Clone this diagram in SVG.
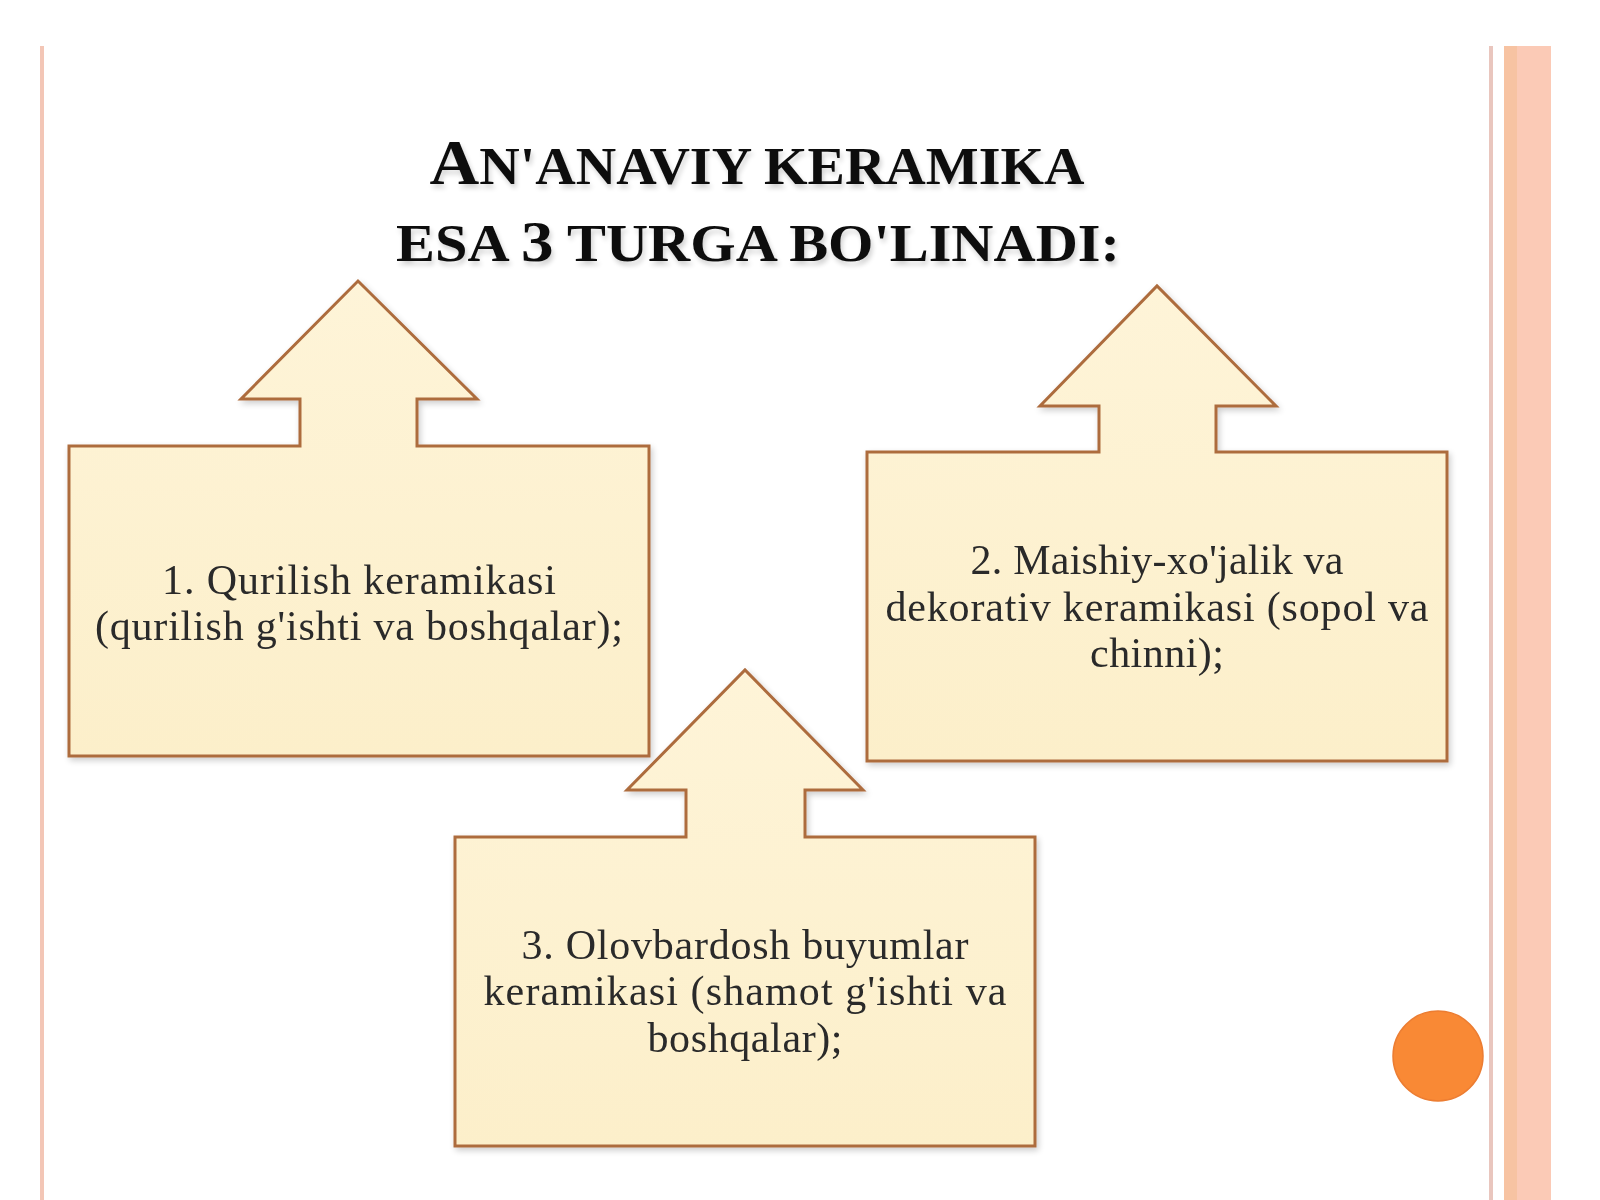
<svg xmlns="http://www.w3.org/2000/svg" width="1600" height="1200" viewBox="0 0 1600 1200">
  <defs>
    <linearGradient id="boxFill" x1="0" y1="0" x2="0" y2="1">
      <stop offset="0" stop-color="#fef4d8"/>
      <stop offset="1" stop-color="#fcefca"/>
    </linearGradient>
    <filter id="shadow" x="-5%" y="-5%" width="110%" height="110%">
      <feGaussianBlur in="SourceAlpha" stdDeviation="3"/>
      <feOffset dx="2" dy="3" result="b"/>
      <feComponentTransfer><feFuncA type="linear" slope="0.2"/></feComponentTransfer>
      <feMerge><feMergeNode/><feMergeNode in="SourceGraphic"/></feMerge>
    </filter>
    <filter id="tshadow" x="-5%" y="-20%" width="110%" height="140%">
      <feGaussianBlur in="SourceAlpha" stdDeviation="2.5"/>
      <feOffset dx="2" dy="4" result="b"/>
      <feComponentTransfer><feFuncA type="linear" slope="0.18"/></feComponentTransfer>
      <feMerge><feMergeNode/><feMergeNode in="SourceGraphic"/></feMerge>
    </filter>
  </defs>
  <style>
    .box { fill: url(#boxFill); stroke: #ad6c3e; stroke-width: 3; stroke-linejoin: miter; }
    .lbl { font-family: "Liberation Serif", "DejaVu Serif", serif; font-size: 42px; fill: #2a2a2a; text-anchor: middle; }
    .title { font-family: "Liberation Serif", "DejaVu Serif", serif; font-weight: bold; fill: #111111; text-anchor: middle; }
  </style>
  <rect x="0" y="0" width="1600" height="1200" fill="#ffffff"/>

  <g id="decor">
    <rect x="40" y="46" width="4" height="1154" fill="#f3c6b6"/>
    <rect x="1489" y="46" width="4" height="1154" fill="#e9c6be"/>
    <rect x="1504" y="46" width="13" height="1154" fill="#f7c3a2"/>
    <rect x="1517" y="46" width="34" height="1154" fill="#fbcab6"/>
    <circle cx="1438" cy="1056" r="45" fill="#f98935" stroke="#ec7d32" stroke-width="1.5"/>
  </g>

  <g id="title" filter="url(#tshadow)">
    <text class="title" x="757" y="184" textLength="655" lengthAdjust="spacingAndGlyphs"><tspan font-size="64">A</tspan><tspan font-size="52">N'ANAVIY KERAMIKA</tspan></text>
    <text class="title" x="758" y="261" textLength="724" lengthAdjust="spacingAndGlyphs"><tspan font-size="52">ESA </tspan><tspan font-size="58">3</tspan><tspan font-size="52"> TURGA BO'LINADI:</tspan></text>
  </g>

  <g id="connectors"></g>

  <g id="node1" filter="url(#shadow)">
    <path class="box" d="M69,446 H300 V399 H241 L358,281 L477,399 H417 V446 H649 V756 H69 Z"/>
    <text class="lbl" x="359" y="594" textLength="394" lengthAdjust="spacing">1. Qurilish keramikasi</text>
    <text class="lbl" x="359" y="640" textLength="528" lengthAdjust="spacing">(qurilish g'ishti va boshqalar);</text>
  </g>

  <g id="node2" filter="url(#shadow)">
    <path class="box" d="M867,452 H1099 V406 H1040 L1157,286 L1276,406 H1216 V452 H1447 V761 H867 Z"/>
    <text class="lbl" x="1157" y="574" textLength="373" lengthAdjust="spacing">2. Maishiy-xo'jalik va</text>
    <text class="lbl" x="1157" y="621" textLength="543" lengthAdjust="spacing">dekorativ keramikasi (sopol va</text>
    <text class="lbl" x="1157" y="667" textLength="134" lengthAdjust="spacing">chinni);</text>
  </g>

  <g id="node3" filter="url(#shadow)">
    <path class="box" d="M455,837 H686 V790 H627 L745,670 L863,790 H805 V837 H1035 V1146 H455 Z"/>
    <text class="lbl" x="745" y="959" textLength="447" lengthAdjust="spacing">3. Olovbardosh buyumlar</text>
    <text class="lbl" x="745" y="1005" textLength="523" lengthAdjust="spacing">keramikasi (shamot g'ishti va</text>
    <text class="lbl" x="745" y="1052" textLength="195" lengthAdjust="spacing">boshqalar);</text>
  </g>
</svg>
